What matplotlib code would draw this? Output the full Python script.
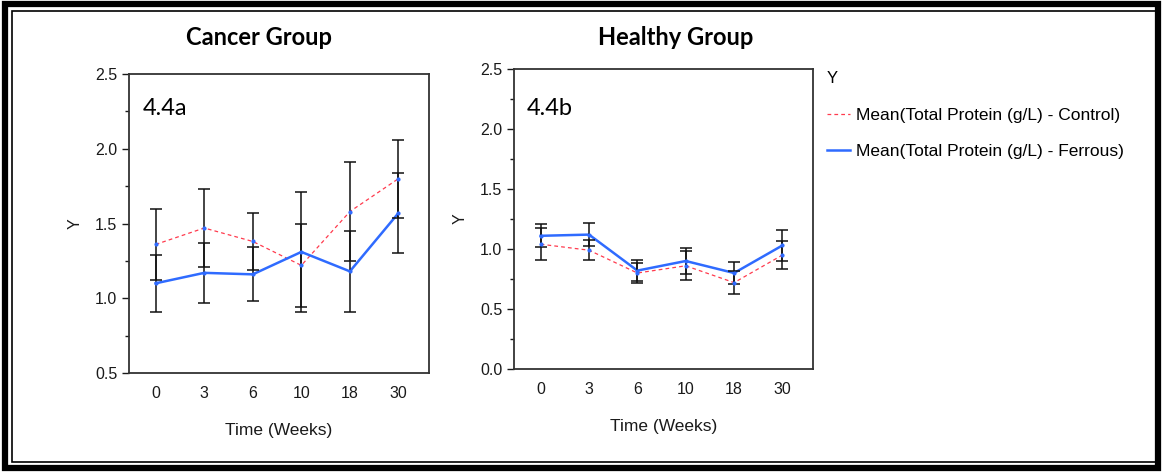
import numpy as np
import matplotlib
matplotlib.use("Agg")
import matplotlib.pyplot as plt
from matplotlib.patches import Rectangle
from matplotlib.ticker import MultipleLocator, FormatStrFormatter

# Total protein (g/L) means and error bars, per week
weeks = ["0", "3", "6", "10", "18", "30"]

cancer_control = [1.36, 1.47, 1.38, 1.22, 1.58, 1.80]
cancer_control_err = [0.24, 0.26, 0.19, 0.28, 0.33, 0.26]
cancer_ferrous = [1.10, 1.17, 1.16, 1.31, 1.18, 1.57]
cancer_ferrous_err = [0.19, 0.20, 0.18, 0.40, 0.27, 0.27]

healthy_control = [1.04, 0.99, 0.80, 0.86, 0.72, 0.95]
healthy_control_err = [0.135, 0.085, 0.085, 0.12, 0.094, 0.12]
healthy_ferrous = [1.11, 1.12, 0.82, 0.90, 0.80, 1.03]
healthy_ferrous_err = [0.095, 0.095, 0.085, 0.11, 0.09, 0.13]

BLUE = "#2f6bff"
RED = "#ff3b4e"
SPINE = "#333333"
TXT = "#1a1a1a"

plt.rcParams["font.family"] = ["Liberation Sans", "DejaVu Sans"]

fig = plt.figure(figsize=(11.63, 4.72), dpi=100)

# double frame round the whole figure
fig.patches.append(Rectangle((0.0045, 0.0085), 0.991, 0.983, transform=fig.transFigure,
                             fill=False, lw=4.5, edgecolor="black"))
fig.patches.append(Rectangle((0.0105, 0.022), 0.9835, 0.955, transform=fig.transFigure,
                             fill=False, lw=1.2, edgecolor="black"))


def panel(rect, control, control_err, ferrous, ferrous_err, ylim, tag, tag_pos):
    ax = fig.add_axes(rect)
    x = np.arange(len(weeks))
    ax.plot(x, control, ls=(0, (3, 2.5)), color=RED, lw=0.9, label="Mean(Total Protein (g/L) - Control)")
    ax.plot(x, ferrous, ls="-", color=BLUE, lw=1.8, label="Mean(Total Protein (g/L) - Ferrous)")
    ax.errorbar(x, control, yerr=control_err, fmt="none", ecolor="#111111", elinewidth=1.1,
                capsize=4.2, capthick=1.1)
    ax.errorbar(x, ferrous, yerr=ferrous_err, fmt="none", ecolor="#111111", elinewidth=1.1,
                capsize=4.2, capthick=1.1)
    ax.plot(x, control, ls="none", marker="o", ms=2, color=BLUE)
    ax.plot(x, ferrous, ls="none", marker="o", ms=2, color=BLUE)

    ax.set_xlim(-0.55, 5.63)
    ax.set_ylim(*ylim)
    ax.set_xticks(x)
    ax.set_xticklabels(weeks)
    ax.yaxis.set_major_locator(MultipleLocator(0.5))
    ax.yaxis.set_minor_locator(MultipleLocator(0.25))
    ax.yaxis.set_major_formatter(FormatStrFormatter("%.1f"))
    ax.tick_params(axis="x", length=0, pad=9, labelsize=11.5, colors=TXT)
    ax.tick_params(axis="y", which="major", length=5, width=1, labelsize=11.5, colors=TXT)
    ax.tick_params(axis="y", which="minor", length=3, width=1, color=TXT)
    for s in ax.spines.values():
        s.set_color(SPINE)
        s.set_linewidth(1.3)
    ax.set_ylabel("Y", fontsize=11.5, labelpad=9, color=TXT)
    ax.set_xlabel("Time (Weeks)", fontsize=12.5, labelpad=16, color=TXT)
    ax.text(tag_pos[0], tag_pos[1], tag, transform=ax.transAxes, fontsize=17, family="Lato",
            va="center")
    return ax


axL = panel([0.1109, 0.2097, 0.258, 0.6335], cancer_control, cancer_control_err,
            cancer_ferrous, cancer_ferrous_err, (0.5, 2.5), "4.4a", (0.045, 0.886))
axR = panel([0.442, 0.2182, 0.257, 0.6356], healthy_control, healthy_control_err,
            healthy_ferrous, healthy_ferrous_err, (0.0, 2.5), "4.4b", (0.042, 0.87))

fig.text(0.2227, 0.921, "Cancer Group", fontsize=17, fontweight="bold", family="Lato",
         ha="center", va="center")
fig.text(0.5813, 0.921, "Healthy Group", fontsize=17, fontweight="bold", family="Lato",
         ha="center", va="center")

fig.legend(*axR.get_legend_handles_labels(), loc="upper left", bbox_to_anchor=(0.7112, 0.849),
           frameon=False, title="Y", alignment="left", fontsize=12.5, title_fontsize=12,
           handlelength=1.3, handletextpad=0.35, labelspacing=1.22, borderaxespad=0,
           borderpad=0)

fig.savefig("out.png", dpi=100)
